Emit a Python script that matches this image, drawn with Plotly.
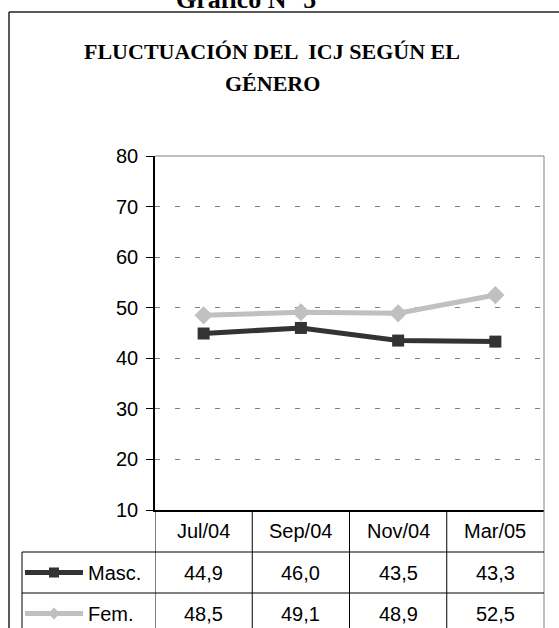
import plotly.graph_objects as go

# data
meses = ["Jul/04", "Sep/04", "Nov/04", "Mar/05"]
masc = [44.9, 46.0, 43.5, 43.3]
fem = [48.5, 49.1, 48.9, 52.5]
series_names = ["Masc.", "Fem."]
y_ticks = [10, 20, 30, 40, 50, 60, 70, 80]

W, H = 559, 628
# plot area in pixels
L, R, T, B = 155, 544, 156, 510


def px(x):
    return x / W


def py(y):
    return 1 - y / H


fig = go.Figure()

colors = ["#333333", "#c0c0c0"]
symbols = ["square", "diamond"]
sizes = [12, 14]

for name, vals, col, sym, sz in zip(series_names, [masc, fem], colors, symbols, sizes):
    fig.add_trace(go.Scatter(
        x=meses, y=vals, mode="lines+markers", name=name,
        line=dict(color=col, width=5),
        marker=dict(color=col, symbol=sym, size=sz),
        showlegend=False
    ))

# table rows (pixel y of row tops)
row_tops = [B, 552, 593, 634]

font_txt = dict(family="Liberation Sans, Arial", size=20, color="black")
annotations = []
shapes = []

# header row
for m in meses:
    annotations.append(dict(
        x=m, xref="x", y=py((row_tops[0] + row_tops[1]) / 2), yref="paper",
        text=m, showarrow=False, font=font_txt, xanchor="center", yanchor="middle"))

# value rows + legend glyphs
for i, (name, vals) in enumerate(zip(series_names, [masc, fem])):
    yc_px = (row_tops[i + 1] + row_tops[i + 2]) / 2
    yc = py(yc_px)
    annotations.append(dict(
        x=px(86), xref="paper", y=yc, yref="paper", text=name, showarrow=False,
        font=font_txt, xanchor="left", yanchor="middle"))
    for m, v in zip(meses, vals):
        annotations.append(dict(
            x=m, xref="x", y=yc, yref="paper", text=f"{v:.1f}".replace(".", ","),
            showarrow=False, font=font_txt, xanchor="center", yanchor="middle"))
    # glyph line
    shapes.append(dict(type="line", xref="paper", yref="paper", x0=px(25), x1=px(83),
                       y0=yc, y1=yc, line=dict(color=colors[i], width=5)))
    if symbols[i] == "square":
        shapes.append(dict(type="rect", xref="paper", yref="paper",
                           x0=px(49), x1=px(59), y0=py(yc_px + 5), y1=py(yc_px - 5),
                           fillcolor=colors[i], line=dict(width=0)))
    else:
        path = "M {} {} L {} {} L {} {} L {} {} Z".format(
            px(54), py(yc_px - 6), px(60), yc, px(54), py(yc_px + 6), px(48), yc)
        shapes.append(dict(type="path", xref="paper", yref="paper", path=path,
                           fillcolor=colors[i], line=dict(width=0)))

# titles
annotations.append(dict(
    x=px(246), y=py(16), xref="paper", yref="paper", text="<b>Gráfico N° 5</b>",
    showarrow=False, xanchor="center", yanchor="bottom",
    font=dict(family="Liberation Serif, Times New Roman", size=26, color="black")))
annotations.append(dict(
    x=px(272), y=py(51), xref="paper", yref="paper",
    text="<b>FLUCTUACIÓN DEL  ICJ SEGÚN EL</b>",
    showarrow=False, xanchor="center", yanchor="middle",
    font=dict(family="Liberation Serif, Times New Roman", size=22, color="black")))
annotations.append(dict(
    x=px(272), y=py(84), xref="paper", yref="paper", text="<b>GÉNERO</b>",
    showarrow=False, xanchor="center", yanchor="middle",
    font=dict(family="Liberation Serif, Times New Roman", size=22, color="black")))

line_k = dict(color="black", width=1)
# outer frame
shapes.append(dict(type="line", xref="paper", yref="paper", x0=px(9), x1=px(9),
                   y0=py(12), y1=py(H + 5), line=dict(color="#222222", width=1.5)))
shapes.append(dict(type="line", xref="paper", yref="paper", x0=px(9), x1=px(W + 5),
                   y0=py(12), y1=py(12), line=dict(color="#222222", width=1.5)))
# plot top / right borders (gray)
shapes.append(dict(type="line", xref="paper", yref="paper", x0=px(L), x1=px(R),
                   y0=py(T), y1=py(T), line=dict(color="#808080", width=1)))
shapes.append(dict(type="line", xref="paper", yref="paper", x0=px(R), x1=px(R),
                   y0=py(T), y1=py(H + 5), line=dict(color="#808080", width=1)))
# table vertical lines
for k in range(len(meses)):
    shapes.append(dict(type="line", xref="x", yref="paper", x0=k - 0.5, x1=k - 0.5,
                       y0=py(B), y1=py(H + 5), line=line_k))
# table horizontal lines
for yt in row_tops[1:3]:
    shapes.append(dict(type="line", xref="paper", yref="paper", x0=px(22), x1=px(R),
                       y0=py(yt), y1=py(yt), line=line_k))
shapes.append(dict(type="line", xref="paper", yref="paper", x0=px(22), x1=px(22),
                   y0=py(row_tops[1]), y1=py(H + 5), line=line_k))

fig.update_layout(
    width=W, height=H,
    margin=dict(l=0, r=0, t=0, b=0, autoexpand=False),
    paper_bgcolor="white", plot_bgcolor="white",
    xaxis=dict(
        domain=[px(L), px(R)], range=[-0.5, len(meses) - 0.5], type="category",
        showticklabels=False, ticks="", showgrid=False, zeroline=False,
        showline=True, linecolor="black", linewidth=1.5),
    yaxis=dict(
        domain=[py(B), py(T)], range=[y_ticks[0], y_ticks[-1]], tickvals=y_ticks,
        ticks="outside", ticklen=7, tickcolor="black", tickwidth=1,
        showline=True, linecolor="black", linewidth=1.5, zeroline=False,
        showgrid=True, gridcolor="#808080", gridwidth=1, griddash="5px,15px",
        tickfont=dict(family="Liberation Sans, Arial", size=20, color="black"),
        ticklabelstandoff=4),
    annotations=annotations,
    shapes=shapes,
)

# page body has a default 8px margin; remove it so the figure sits at the corner
fig.write_html("out.html", config={"displayModeBar": False},
               post_script="document.body.style.margin='0';")
